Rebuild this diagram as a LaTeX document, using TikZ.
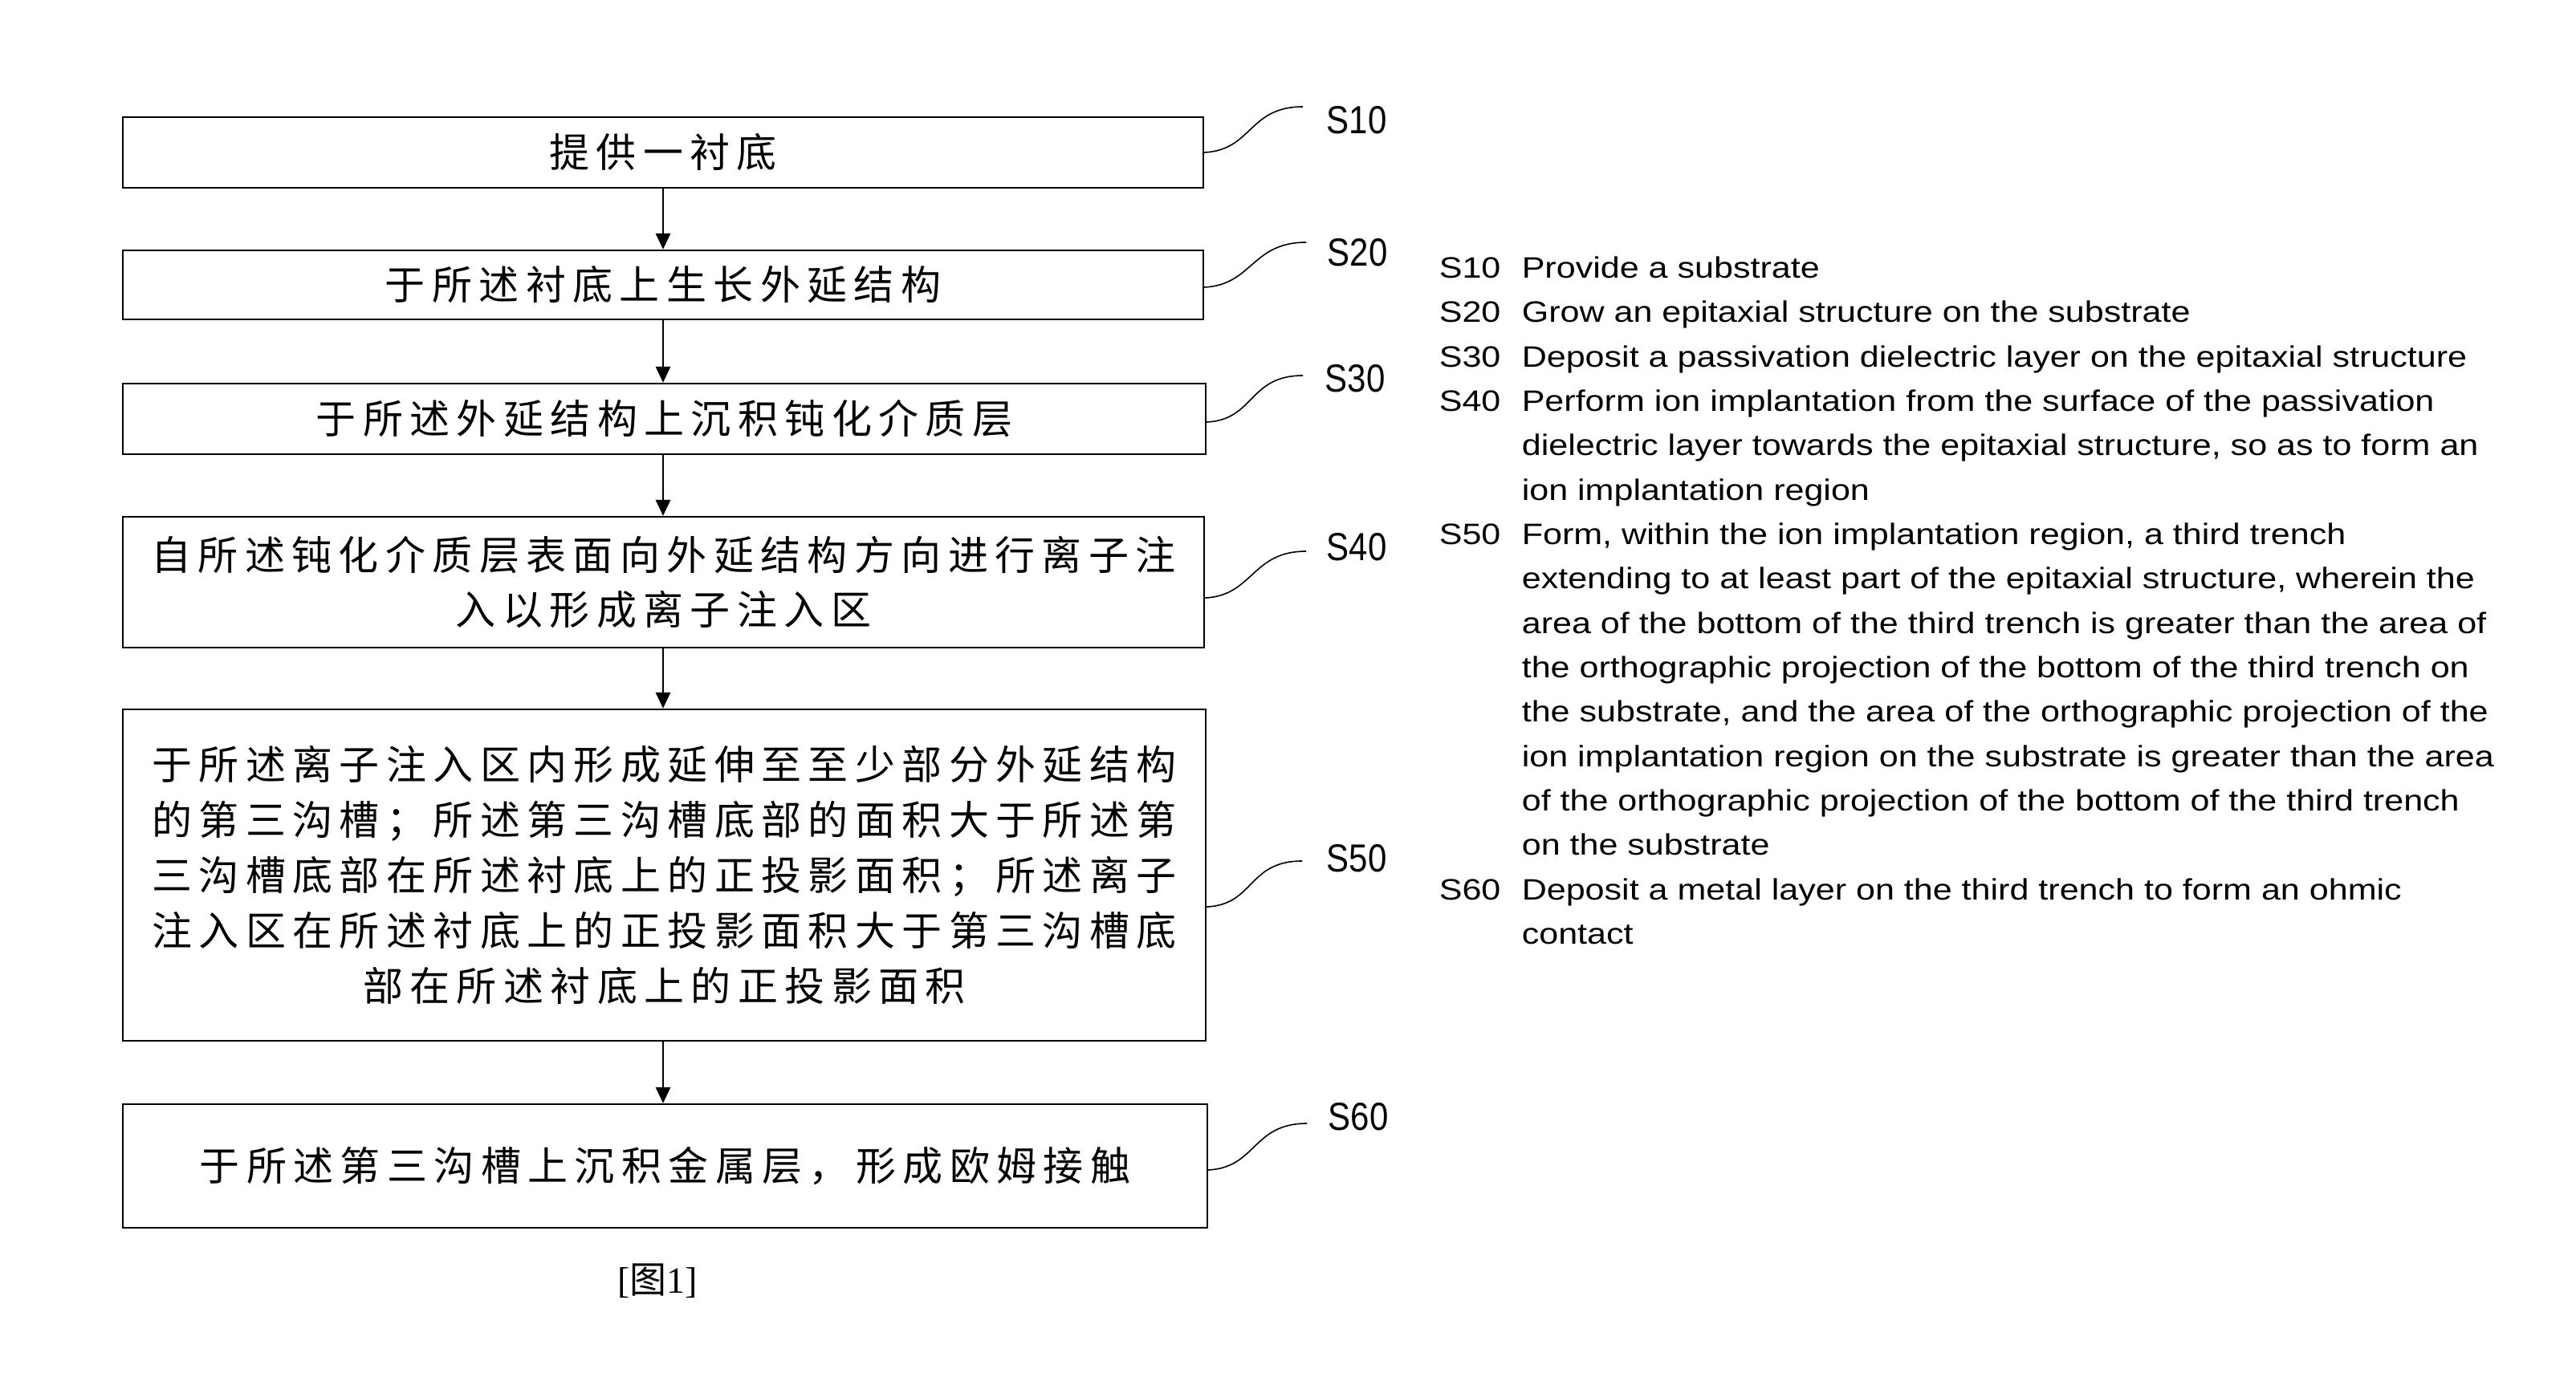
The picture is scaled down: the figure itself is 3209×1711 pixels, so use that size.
\documentclass[tikz,border=0pt]{standalone}
\usepackage{fontspec}
\usetikzlibrary{arrows.meta}
\setmainfont{Liberation Serif}
\newfontfamily\cjkf{Noto Sans CJK SC}
\newfontfamily\rtf[FakeStretch=1.17]{Liberation Sans}
\newfontfamily\lblf[FakeStretch=0.86]{Liberation Sans}
\newdimen\cjkgap \cjkgap=2.1pt
\def\cjksp#1{\cjkloop#1\relax}
\def\cjkloop#1#2{#1\ifx\relax#2\else\hskip\cjkgap\expandafter\cjkloop\expandafter#2\fi}
\newcommand\stp[1]{\makebox[25.75pt][l]{#1}}
\begin{document}
\begin{tikzpicture}[x=0.25pt,y=-0.25pt,
  box/.style={draw, line width=0.6pt, inner sep=0pt, align=center,
    font=\cjkf\fontsize{12.5}{17.2}\selectfont},
  flow/.style={-{Triangle[length=5pt,width=4.6pt]}, line width=0.45pt},
  lead/.style={line width=0.4pt},
  lbl/.style={font=\lblf\fontsize{12.2}{14}\selectfont, inner sep=0pt}]
\path[fill=white] (0,0) rectangle (3209,1711);
% boxes
\node[box, minimum width=336.5pt, minimum height=22pt] (b1) at (826,190) {\cjksp{提供一衬底}};
\node[box, minimum width=336.5pt, minimum height=21.5pt] (b2) at (826,355) {\cjksp{于所述衬底上生长外延结构}};
\node[box, minimum width=337.25pt, minimum height=22pt] (b3) at (827.5,522) {\cjksp{于所述外延结构上沉积钝化介质层}};
\node[box, minimum width=336.75pt, minimum height=40.75pt] (b4) at (826.5,725.5)
  {\cjksp{自所述钝化介质层表面向外延结构方向进行离子注}\\\cjksp{入以形成离子注入区}};
\node[box, minimum width=337.25pt, minimum height=103.25pt] (b5) at (827.5,1090.5)
  {\cjksp{于所述离子注入区内形成延伸至至少部分外延结构}\\
   \cjksp{的第三沟槽；所述第三沟槽底部的面积大于所述第}\\
   \cjksp{三沟槽底部在所述衬底上的正投影面积；所述离子}\\
   \cjksp{注入区在所述衬底上的正投影面积大于第三沟槽底}\\
   \cjksp{部在所述衬底上的正投影面积}};
\node[box, minimum width=337.75pt, minimum height=38.5pt] (b6) at (828.5,1453) {\cjksp{于所述第三沟槽上沉积金属层，形成欧姆接触}};
% arrows
\draw[flow] (b1.south) -- (b1.south |- b2.north);
\draw[flow] (b2.south) -- (b2.south |- b3.north);
\draw[flow] (b3.south -| b2.south) -- (b2.south |- b4.north);
\draw[flow] (b4.south -| b2.south) -- (b2.south |- b5.north);
\draw[flow] (b5.south -| b2.south) -- (b2.south |- b6.north);
% leaders and step labels
\coordinate (e1) at (1623,133);
\coordinate (e2) at (1627,302);
\coordinate (e3) at (1623,468);
\coordinate (e4) at (1627,687);
\coordinate (e5) at (1622,1073);
\coordinate (e6) at (1628,1400);
\draw[lead] (b1.east) .. controls +(60,-3) and +(-68,0) .. (e1);
\draw[lead] ([yshift=-0.75pt]b2.east) .. controls +(60,-3) and +(-68,0) .. (e2);
\draw[lead] ([yshift=-1pt]b3.east) .. controls +(60,-3) and +(-68,0) .. (e3);
\draw[lead] ([yshift=-4.9pt]b4.east) .. controls +(60,-3) and +(-68,0) .. (e4);
\draw[lead] ([yshift=-9.9pt]b5.east) .. controls +(60,-3) and +(-68,0) .. (e5);
\draw[lead] ([yshift=-1.25pt]b6.east) .. controls +(60,-3) and +(-68,0) .. (e6);
\node[lbl] (l1) at (1690,150) {S10};
\node[lbl] (l2) at (1691,315) {S20};
\node[lbl] (l3) at (1688,472) {S30};
\node[lbl] (l4) at (1690,682) {S40};
\node[lbl] (l5) at (1690,1070) {S50};
\node[lbl] (l6) at (1692,1392) {S60};
% legend text
\node[anchor=north west, inner sep=0pt, font=\rtf\fontsize{9.2}{13.83}\selectfont] (txt) at (1792,307) {%
\begin{tabular}{@{}l@{}l@{}}
\stp{S10} & Provide a substrate\\
\stp{S20} & Grow an epitaxial structure on the substrate\\
\stp{S30} & Deposit a passivation dielectric layer on the epitaxial structure\\
\stp{S40} & Perform ion implantation from the surface of the passivation\\
 & dielectric layer towards the epitaxial structure, so as to form an\\
 & ion implantation region\\
\stp{S50} & Form, within the ion implantation region, a third trench\\
 & extending to at least part of the epitaxial structure, wherein the\\
 & area of the bottom of the third trench is greater than the area of\\
 & the orthographic projection of the bottom of the third trench on\\
 & the substrate, and the area of the orthographic projection of the\\
 & ion implantation region on the substrate is greater than the area\\
 & of the orthographic projection of the bottom of the third trench\\
 & on the substrate\\
\stp{S60} & Deposit a metal layer on the third trench to form an ohmic\\
 & contact
\end{tabular}};
% caption
\node[inner sep=0pt, font=\fontsize{11.5}{13}\selectfont] (cap) at (819,1596) {[{\cjkf 图}1]};
\end{tikzpicture}
\end{document}
